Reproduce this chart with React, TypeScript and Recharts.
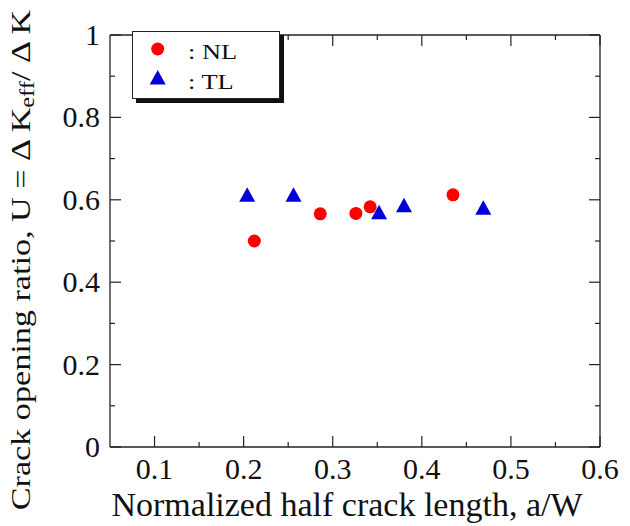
import React from "react";
import { ScatterChart, Scatter, XAxis, YAxis, Legend } from "recharts";

// a/W and U values
const nlX = [0.212, 0.286, 0.326, 0.342, 0.435];
const nlU = [0.5, 0.566, 0.567, 0.583, 0.612];
const tlX = [0.204, 0.256, 0.352, 0.38, 0.469];
const tlU = [0.612, 0.612, 0.57, 0.587, 0.581];

const xMajor = [0.1, 0.2, 0.3, 0.4, 0.5, 0.6];
const xMinor = [0.15, 0.25, 0.35, 0.45, 0.55];
const yMajor = [0, 0.2, 0.4, 0.6, 0.8, 1];
const yMinor = [0.1, 0.3, 0.5, 0.7, 0.9];

const xTicks = [...xMajor, ...xMinor].sort((a, b) => a - b);
const yTicks = [...yMajor, ...yMinor].sort((a, b) => a - b);

const FONT = "'Liberation Serif', 'Times New Roman', serif";
const AXIS = "#222";
const RED = "#f00";
const BLUE = "#0000d8";

const nlData = nlX.map((x, i) => ({ x, u: nlU[i] }));
const tlData = tlX.map((x, i) => ({ x, u: tlU[i] }));

function BottomTick({ x, y, payload }: any) {
  const major = xMajor.includes(payload.value);
  return (
    <g>
      <line x1={x} x2={x} y1={y} y2={y - (major ? 11 : 5)} stroke={AXIS} strokeWidth={1.2} />
      {major && (
        <text x={x} y={y + 32} textAnchor="middle" fontSize={30} fontFamily={FONT} fill="#111">
          {payload.value}
        </text>
      )}
    </g>
  );
}

function TopTick({ x, y, payload }: any) {
  const major = xMajor.includes(payload.value);
  return <line x1={x} x2={x} y1={y} y2={y + (major ? 11 : 5)} stroke={AXIS} strokeWidth={1.2} />;
}

function LeftTick({ x, y, payload }: any) {
  const major = yMajor.includes(payload.value);
  return (
    <g>
      <line x1={x} x2={x + (major ? 11 : 5)} y1={y} y2={y} stroke={AXIS} strokeWidth={1.2} />
      {major && (
        <text x={x - 10} y={y + 10} textAnchor="end" fontSize={30} fontFamily={FONT} fill="#111">
          {payload.value}
        </text>
      )}
    </g>
  );
}

function RightTick({ x, y, payload }: any) {
  const major = yMajor.includes(payload.value);
  return <line x1={x} x2={x - (major ? 11 : 5)} y1={y} y2={y} stroke={AXIS} strokeWidth={1.2} />;
}

function XTitle({ viewBox }: any) {
  const { x, y, width } = viewBox;
  return (
    <text x={x + width / 2 - 8} y={y + 69} textAnchor="middle" fontSize={34} fontFamily={FONT} fill="#111">
      Normalized half crack length, a/W
    </text>
  );
}

function YTitle({ viewBox }: any) {
  const { y, height } = viewBox;
  return (
    <text
      transform={`translate(29.5, ${y + height / 2 + 19}) rotate(-90) scale(1.22, 1)`}
      textAnchor="middle"
      fontSize={28}
      fontFamily={FONT}
      fill="#111"
    >
      Crack opening ratio, U = Δ K
      <tspan dy={4} fontSize={20}>eff</tspan>
      <tspan dy={-4}>/ Δ K</tspan>
    </text>
  );
}

const Dot = ({ cx, cy }: any) => <circle cx={cx} cy={cy} r={6.5} fill={RED} />;
const Tri = ({ cx, cy }: any) => (
  <polygon points={`${cx},${cy - 7.5} ${cx - 8},${cy + 7} ${cx + 8},${cy + 7}`} fill={BLUE} />
);

function LegendBox() {
  return (
    <div
      style={{
        width: 146,
        height: 66,
        border: `1.3px solid ${AXIS}`,
        boxShadow: "4px 4px 0 #111",
        background: "#fff",
      }}
    >
      <svg width={146} height={66} style={{ display: "block" }}>
        <circle cx={24.7} cy={17} r={6.5} fill={RED} />
        <polygon points="24.7,38 16.7,52.5 32.7,52.5" fill={BLUE} />
        <text transform="translate(55, 27) scale(1.2, 1)" fontSize={22} fontFamily={FONT} fill="#111">
          : NL
        </text>
        <text transform="translate(55, 56.5) scale(1.2, 1)" fontSize={22} fontFamily={FONT} fill="#111">
          : TL
        </text>
      </svg>
    </div>
  );
}

export default function App() {
  return (
    <div style={{ position: "absolute", left: 0, top: 0, width: 630, height: 526, background: "#fff" }}>
      <ScatterChart width={630} height={526} margin={{ top: 0, right: 0, bottom: 0, left: 0 }}>
        <XAxis
          xAxisId="b"
          type="number"
          dataKey="x"
          orientation="bottom"
          domain={[0.05, 0.6]}
          ticks={xTicks}
          interval={0}
          allowDataOverflow
          height={79}
          tickSize={0}
          tickMargin={0}
          tick={<BottomTick />}
          axisLine={{ stroke: AXIS, strokeWidth: 1.3 }}
          label={<XTitle />}
        />
        <XAxis
          xAxisId="t"
          type="number"
          dataKey="x"
          orientation="top"
          domain={[0.05, 0.6]}
          ticks={xTicks}
          interval={0}
          allowDataOverflow
          height={35}
          tickSize={0}
          tickMargin={0}
          tick={<TopTick />}
          axisLine={{ stroke: AXIS, strokeWidth: 1.3 }}
        />
        <YAxis
          yAxisId="l"
          type="number"
          dataKey="u"
          orientation="left"
          domain={[0, 1]}
          ticks={yTicks}
          interval={0}
          allowDataOverflow
          width={110}
          tickSize={0}
          tickMargin={0}
          tick={<LeftTick />}
          axisLine={{ stroke: AXIS, strokeWidth: 1.3 }}
          label={<YTitle />}
        />
        <YAxis
          yAxisId="r"
          type="number"
          dataKey="u"
          orientation="right"
          domain={[0, 1]}
          ticks={yTicks}
          interval={0}
          allowDataOverflow
          width={30}
          tickSize={0}
          tickMargin={0}
          tick={<RightTick />}
          axisLine={{ stroke: AXIS, strokeWidth: 1.3 }}
        />
        <Scatter name="NL" data={nlData} xAxisId="b" yAxisId="l" shape={<Dot />} isAnimationActive={false} />
        <Scatter name="TL" data={tlData} xAxisId="b" yAxisId="l" shape={<Tri />} isAnimationActive={false} />
        <Legend
          layout="vertical"
          verticalAlign="middle"
          align="center"
          content={<LegendBox />}
          wrapperStyle={{ position: "absolute", left: 132, top: 31, width: "auto", margin: 0 }}
        />
      </ScatterChart>
    </div>
  );
}
